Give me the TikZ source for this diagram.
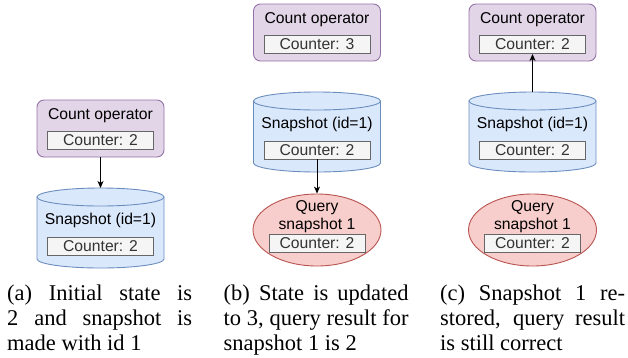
\documentclass[tikz,border=0pt]{standalone}
\usepackage{fontspec}
\setmainfont{Liberation Serif}
\setsansfont{Liberation Sans}
\usetikzlibrary{arrows.meta,shapes.geometric}
\definecolor{opfill}{HTML}{E1D5E7}\definecolor{opline}{HTML}{9673A6}
\definecolor{snfill}{HTML}{DAE8FC}\definecolor{snline}{HTML}{6C8EBF}
\definecolor{qfill}{HTML}{F8CECC}\definecolor{qline}{HTML}{B85450}
\definecolor{cfill}{HTML}{F5F5F5}\definecolor{cline}{HTML}{666666}\definecolor{ctext}{HTML}{333333}
\tikzset{
 lbl/.style={font=\sffamily\fontsize{15.7}{18}\selectfont, inner sep=0pt, align=center},
 ctr/.style={draw=cline, fill=cfill, text=ctext, line width=0.9pt, minimum width=106pt, minimum height=18pt, inner sep=0pt, font=\sffamily\fontsize{15.7}{18}\selectfont},
 opbox/.style={draw=opline, fill=opfill, line width=0.9pt, rounded corners=7pt, minimum width=127pt, minimum height=57pt, inner sep=0pt},
 qell/.style={ellipse, draw=qline, fill=qfill, line width=0.9pt, minimum width=128pt, minimum height=72pt, inner sep=0pt},
 conn/.style={line width=0.9pt, -{Stealth[length=7pt,width=6pt,inset=2pt]}},
 captext/.style={font=\fontsize{22.5}{25}\selectfont, inner sep=0pt, anchor=base west},
}
\newcommand{\snapcyl}[3]{%
\begin{scope}[shift={(#2,-#3)}]
 \path[fill=snfill] (-63.5,-9) -- (-63.5,-71) arc[start angle=180,end angle=360,x radius=63.5,y radius=9] -- (63.5,-9) arc[start angle=0,end angle=180,x radius=63.5,y radius=9] -- cycle;
 \draw[snline, line width=0.9pt] (-63.5,-9) -- (-63.5,-71) arc[start angle=180,end angle=360,x radius=63.5,y radius=9] -- (63.5,-9);
 \draw[snline, line width=0.9pt] (0,-9) ellipse[x radius=63.5,y radius=9];
 \coordinate (#1top) at (0,0);
 \node[lbl] (#1title) at (0,-32.5) {Snapshot (id=1)};
 \node[ctr] (#1ctr) at (0,-58) {Counter: 2};
\end{scope}}
\newcommand{\countop}[4]{%
 \node[opbox] (#1) at (#2,-#3-28.5) {};
 \node[lbl] (#1title) at (#2,-#3-16) {Count operator};
 \node[ctr] (#1ctr) at (#2,-#3-40.5) {Counter: #4};}
\newcommand{\query}[2]{%
 \node[qell] (#1) at (#2,-230) {};
 \node[lbl] (#1title) at (#2,-217) {Query\\snapshot 1};
 \node[ctr, minimum width=96pt] (#1ctr) at (#2,-243.5) {Counter: 2};}
\begin{document}
\begin{tikzpicture}[x=1pt,y=1pt]
\useasboundingbox (0,0) rectangle (628,-357);
% panel a
\countop{opA}{100.5}{100}{2}
\snapcyl{cylA}{100.5}{188}
\draw[conn] (opA.south) -- (cylAtop);
% panel b
\countop{opB}{317}{4}{3}
\snapcyl{cylB}{317}{92}
\query{qB}{317}
\draw[conn] (cylBctr.south) -- (qB.north);
% panel c
\countop{opC}{532.5}{4}{2}
\snapcyl{cylC}{532.5}{92}
\query{qC}{532.5}
\draw[conn] (cylCtop) -- (opCctr.south);
% captions
\node[captext] (ca1) at (7,-300) {\makebox[185pt][s]{(a) Initial state is}};
\node[captext] (ca2) at (7,-325) {\makebox[185pt][s]{2 and snapshot is}};
\node[captext] (ca3) at (7,-350) {made with id 1};
\node[captext] (cb1) at (223.5,-300) {\makebox[185pt][s]{(b) State is updated}};
\node[captext] (cb2) at (223.5,-325) {\makebox[185pt][s]{to 3, query result for}};
\node[captext] (cb3) at (223.5,-350) {snapshot 1 is 2};
\node[captext] (cc1) at (440,-300) {\makebox[185pt][s]{(c) Snapshot 1 re-}};
\node[captext] (cc2) at (440,-325) {\makebox[185pt][s]{stored, query result}};
\node[captext] (cc3) at (440,-350) {is still correct};
\end{tikzpicture}
\end{document}
